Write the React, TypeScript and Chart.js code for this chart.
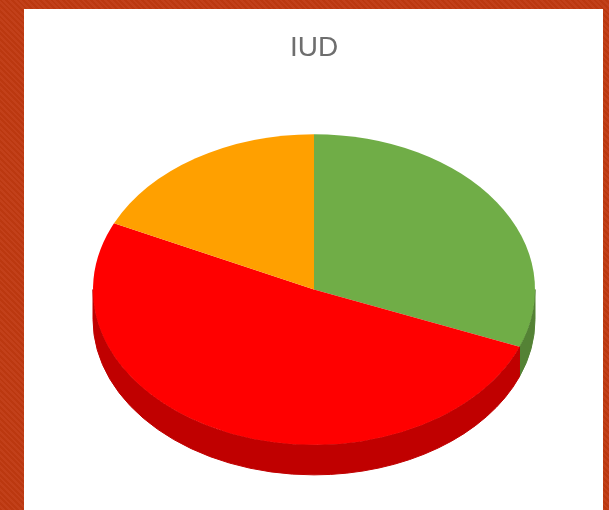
import React, { useEffect, useRef } from "react";
import { Chart, registerables } from "chart.js";

Chart.register(...registerables);

const categories = ["Green", "Red", "Orange"];
const values = [31, 51, 18];
const topColors = ["#70ad47", "#ff0000", "#ffa000"];
const sideColors = ["#548235", "#c00000", "#c77a00"];
const chartTitle = "IUD";

const TILT = 0.703;
const DEPTH = 30;

const pie3d = {
  id: "pie3d",
  beforeDatasetsDraw(chart: any) {
    const meta = chart.getDatasetMeta(0);
    if (!meta.data.length) return;
    const ctx = chart.ctx;
    const first = meta.data[0];
    const cx = first.x;
    const cy = first.y;
    const r = first.outerRadius;
    const ry = r * TILT;
    meta.data.forEach((arc: any, i: number) => {
      const a1 = Math.max(arc.startAngle, 0);
      const a2 = Math.min(arc.endAngle, Math.PI);
      if (a2 <= a1) return;
      ctx.save();
      ctx.beginPath();
      ctx.ellipse(cx, cy, r, ry, 0, a1, a2, false);
      ctx.ellipse(cx, cy + DEPTH, r, ry, 0, a2, a1, true);
      ctx.closePath();
      ctx.fillStyle = sideColors[i];
      ctx.fill();
      ctx.strokeStyle = sideColors[i];
      ctx.lineWidth = 1;
      ctx.stroke();
      ctx.restore();
    });
    ctx.save();
    ctx.translate(cx, cy);
    ctx.scale(1, TILT);
    ctx.translate(-cx, -cy);
  },
  afterDatasetsDraw(chart: any) {
    const meta = chart.getDatasetMeta(0);
    if (!meta.data.length) return;
    chart.ctx.restore();
  },
};

export default function App() {
  const ref = useRef<HTMLCanvasElement | null>(null);
  useEffect(() => {
    if (!ref.current) return;
    const chart = new Chart(ref.current, {
      type: "pie",
      data: {
        labels: categories,
        datasets: [
          {
            data: values,
            backgroundColor: topColors,
            borderWidth: 0,
          },
        ],
      },
      options: {
        responsive: false,
        animation: false,
        events: [],
        layout: { padding: { left: 93, right: 74, top: 0, bottom: 9.5 } },
        plugins: {
          legend: { display: false },
          tooltip: { enabled: false },
          title: {
            display: true,
            text: chartTitle,
            color: "#6e6e6e",
            font: { family: "'Liberation Sans', Arial, sans-serif", size: 28, weight: "normal", lineHeight: 1.2 },
            padding: { top: 31, bottom: 3.9 },
          },
        },
      },
      plugins: [pie3d],
    });
    return () => chart.destroy();
  }, []);
  return (
    <div
      style={{
        position: "fixed",
        left: 0,
        top: 0,
        width: 609,
        height: 510,
        overflow: "hidden",
        background:
          "repeating-linear-gradient(45deg, #bb3810 0px, #bb3810 2px, #c2401a 2px, #c2401a 4px)",
      }}
    >
      <div
        style={{
          position: "absolute",
          left: 24,
          top: 9,
          width: 579,
          height: 510,
          background: "#ffffff",
        }}
      />
      <canvas
        ref={ref}
        width={609}
        height={520}
        style={{ position: "absolute", left: 0, top: 0, width: 609, height: 520 }}
      />
    </div>
  );
}
